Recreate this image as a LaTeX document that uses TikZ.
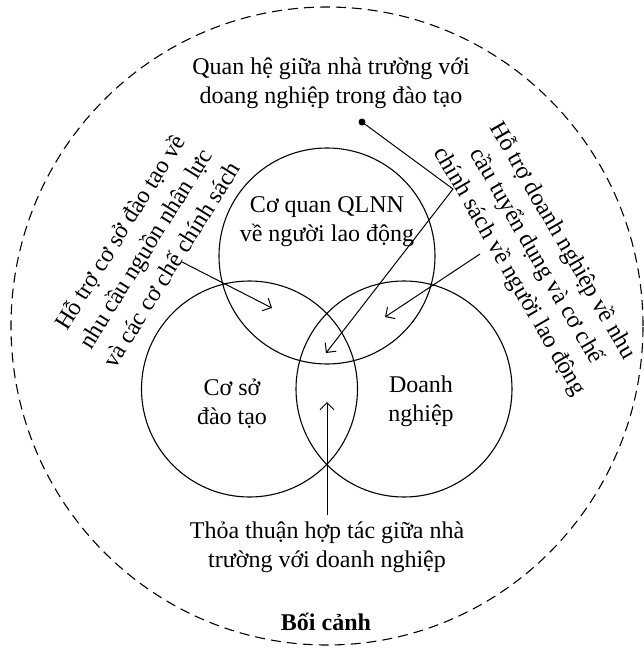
\documentclass[tikz,border=0pt]{standalone}
\usepackage{fontspec}
\setmainfont{Liberation Serif}
\usetikzlibrary{arrows.meta}
\begin{document}
\begin{tikzpicture}[x=1pt,y=-1pt,
  circ/.style={draw, circle, line width=1.1pt, minimum size=216pt, inner sep=0pt},
  lbl/.style={font=\fontsize{24}{29}\selectfont, align=center, inner sep=0pt},
  rlbl/.style={font=\fontsize{24}{30.5}\selectfont, align=center, inner sep=0pt},
  conn/.style={line width=1pt, -{Straight Barb[length=7pt,width=14pt]}},
]
\useasboundingbox (0,0) rectangle (643,648);
\draw[dash pattern=on 10pt off 6pt, line width=1.1pt] (327,326) ellipse [x radius=316pt, y radius=319pt];

\node[circ] (qlnn) at (327,256) {};
\node[circ] (csdt) at (249.5,389) {};
\node[circ] (dn) at (404,389) {};

\node[lbl] (tqlnn) at (327,222) {Cơ quan QLNN\\về người lao động};
\node[lbl] (tcsdt) at (232,404) {Cơ sở\\đào tạo};
\node[lbl] (tdn) at (421,401) {Doanh\\nghiệp};

\node[lbl] (top) at (331,83) {Quan hệ giữa nhà trường với\\doang nghiệp trong đào tạo};
\node[lbl] (bot) at (327,547) {Thỏa thuận hợp tác giữa nhà\\trường với doanh nghiệp};
\node[lbl, font=\fontsize{24}{29}\selectfont\bfseries] (ctx) at (326,622) {Bối cảnh};

\node[rlbl, rotate=58] (left) at (145,248) {Hỗ trợ cơ sở đào tạo về\\nhu cầu nguồn nhân lực\\và các cơ chế chính sách};
\node[rlbl, rotate=-60] (right) at (536,256) {Hỗ trợ doanh nghiệp về nhu\\cầu tuyển dụng và cơ chế\\chính sách về người lao động};

\coordinate (dot) at (362,122);
\coordinate (bend) at (453,189);
\coordinate (tipc) at (326,353);
\fill (dot) circle[radius=3.5pt];
\draw[conn] (dot) -- (bend) -- (tipc);

\coordinate (ls) at (182,262);
\coordinate (lt) at (272,308);
\draw[conn] (ls) -- (lt);

\coordinate (rs) at (480,254);
\coordinate (rt) at (385,317);
\draw[conn] (rs) -- (rt);

\coordinate (bs) at (327,515);
\coordinate (bt) at (327,402);
\draw[conn] (bs) -- (bt);
\end{tikzpicture}
\end{document}
